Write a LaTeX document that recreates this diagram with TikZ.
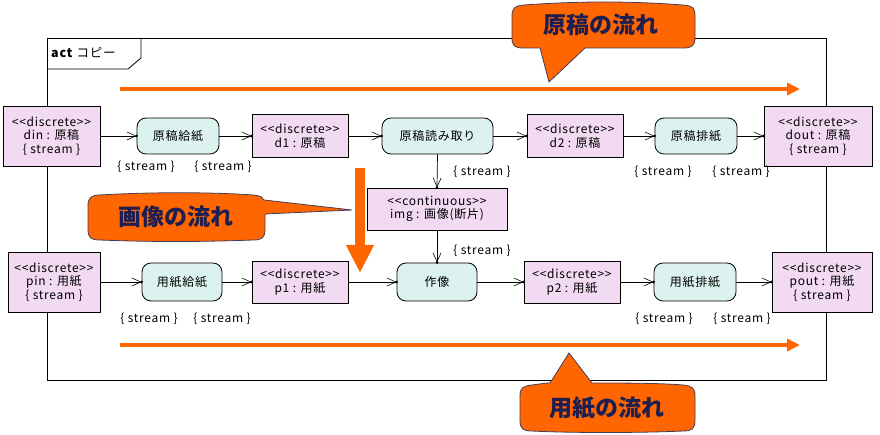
\documentclass[tikz,border=0pt]{standalone}
\usepackage{fontspec}
\setmainfont{Noto Sans CJK JP}[Ligatures=TeXOff, LetterSpace=6]
\newfontfamily\callfont{Noto Sans CJK JP}[Ligatures=TeXOff]
\usetikzlibrary{arrows.meta}
\definecolor{objfill}{RGB}{242,218,242}
\definecolor{actfill}{RGB}{220,242,238}
\definecolor{flowor}{RGB}{255,102,0}
\definecolor{callline}{RGB}{70,60,90}
\definecolor{calltext}{RGB}{30,30,80}
\begin{document}
\begin{tikzpicture}[x=1pt,y=-1pt,
  base/.style={draw, line width=0.8pt, inner sep=0pt, align=center, font=\fontsize{12}{13.5}\selectfont},
  obj/.style={base, fill=objfill},
  actn/.style={base, fill=actfill, rounded corners=9pt},
  lbl/.style={inner sep=0pt, font=\fontsize{12}{13.5}\selectfont},
  flow/.style={line width=0.7pt, -{Straight Barb[length=9pt,width=8pt,line width=0.6pt]}},
  big/.style={line width=4pt, draw=flowor, -{Triangle[length=13pt,width=12pt]}},
  callout/.style={fill=flowor, draw=callline, line width=0.8pt},
  ctext/.style={inner sep=0pt, text=calltext, font=\callfont\fontsize{23}{25}\selectfont\bfseries}
]
\useasboundingbox (0,0) rectangle (880,435);
% frame
\draw[line width=0.8pt] (47,38) rectangle (826,380);
\draw[line width=0.8pt] (47,69) -- (128,69) -- (141,58) -- (141,38);
\node[lbl, anchor=west, font=\fontsize{12.5}{14}\selectfont] (frametitle) at (51,53) {\textbf{act} コピー};

% orange horizontal arrows
\coordinate (t1) at (120,89); \coordinate (t2) at (800,89);
\coordinate (u1) at (120,345); \coordinate (u2) at (800,345);
\draw[big] (t1) -- (t2);
\draw[big] (u1) -- (u2);

% nodes top row
\node[obj, minimum width=97pt, minimum height=60pt] (din) at (51.5,136) {<<discrete>>\\din : 原稿\\\{ stream \}};
\node[actn, minimum width=82pt, minimum height=36pt] (a1) at (178,136) {原稿給紙};
\node[obj, minimum width=96pt, minimum height=43pt] (d1) at (300,136) {<<discrete>>\\d1 : 原稿};
\node[actn, minimum width=111pt, minimum height=36pt] (a2) at (437.5,136) {原稿読み取り};
\node[obj, minimum width=96pt, minimum height=43pt] (d2) at (575,136) {<<discrete>>\\d2 : 原稿};
\node[actn, minimum width=82pt, minimum height=36pt] (a3) at (696,136) {原稿排紙};
\node[obj, minimum width=108pt, minimum height=60pt] (dout) at (818,136) {<<discrete>>\\dout : 原稿\\\{ stream \}};

\node[obj, minimum width=140pt, minimum height=42pt] (img) at (437,209) {<<continuous>>\\img : 画像(断片)};

% bottom row
\node[obj, minimum width=92pt, minimum height=60pt] (pin) at (54,282) {<<discrete>>\\pin : 用紙\\\{ stream \}};
\node[actn, minimum width=80pt, minimum height=38pt] (b1) at (182,282) {用紙給紙};
\node[obj, minimum width=96pt, minimum height=42pt] (p1) at (300,282) {<<discrete>>\\p1 : 用紙};
\node[actn, minimum width=80pt, minimum height=38pt] (b2) at (437,282) {作像};
\node[obj, minimum width=96pt, minimum height=42pt] (p2) at (572,282) {<<discrete>>\\p2 : 用紙};
\node[actn, minimum width=82pt, minimum height=38pt] (b3) at (695,282) {用紙排紙};
\node[obj, minimum width=100pt, minimum height=60pt] (pout) at (822,282) {<<discrete>>\\pout : 用紙\\\{ stream \}};

% connectors
\foreach \a/\b in {din/a1, a1/d1, d1/a2, a2/d2, d2/a3, a3/dout, pin/b1, b1/p1, p1/b2, b2/p2, p2/b3, b3/pout} {
  \draw[flow] (\a.east) -- (\b.west);
  \fill (\b.west) circle (1.4pt);
}
\draw[flow] (a2.south) -- (img.north); \fill (img.north) circle (1.4pt);
\draw[flow] (img.south) -- (b2.north); \fill (b2.north) circle (1.4pt);

% stream labels
\node[lbl] (s1) at (146,167) {\{ stream \}};
\node[lbl] (s2) at (223,167) {\{ stream \}};
\node[lbl] (s3) at (663,172) {\{ stream \}};
\node[lbl] (s4) at (741,172) {\{ stream \}};
\node[lbl] (s5) at (482,172) {\{ stream \}};
\node[lbl] (s6) at (482,251) {\{ stream \}};
\node[lbl] (s7) at (149,319) {\{ stream \}};
\node[lbl] (s8) at (222,319) {\{ stream \}};
\node[lbl] (s9) at (664,319) {\{ stream \}};
\node[lbl] (s10) at (742,319) {\{ stream \}};

% vertical orange arrow
\coordinate (v1) at (360,168); \coordinate (v2) at (360,273);
\draw[line width=10pt, draw=flowor, -{Triangle[length=28pt,width=26pt]}] (v1) -- (v2);

% callout 1: 原稿の流れ
\draw[callout] (524,5) .. controls (580,1) and (630,1) .. (683,5)
  .. controls (694,6) and (695,8) .. (695,17) -- (695,37)
  .. controls (695,46) and (692,48) .. (683,48) -- (585,48) -- (549,82) -- (540,48) -- (524,48)
  .. controls (514,48) and (512,46) .. (512,37) -- (512,17)
  .. controls (512,8) and (514,6) .. (524,5) -- cycle;
\node[ctext] (c1) at (601,25) {原稿の流れ};

% callout 2: 画像の流れ
\draw[callout] (100,195) .. controls (150,192) and (210,192) .. (253,195)
  .. controls (261,196) and (263,197) .. (264,200) -- (352,210) -- (265,214) -- (265,229)
  .. controls (265,238) and (262,240) .. (253,240)
  .. controls (200,242) and (150,242) .. (100,240)
  .. controls (91,240) and (88,238) .. (88,229) -- (88,206)
  .. controls (88,198) and (91,195) .. (100,195) -- cycle;
\node[ctext] (c2) at (176,217) {画像の流れ};

% callout 3: 用紙の流れ
\draw[callout] (532,385) .. controls (540,384) and (545,383) .. (550,383) -- (569,353) -- (592,383)
  .. controls (620,383) and (660,383) .. (683,385)
  .. controls (692,386) and (695,388) .. (695,396) -- (695,420)
  .. controls (695,429) and (692,431) .. (683,431)
  .. controls (640,433) and (570,433) .. (532,431)
  .. controls (523,431) and (520,429) .. (520,420) -- (520,396)
  .. controls (520,388) and (523,386) .. (532,385) -- cycle;
\node[ctext] (c3) at (607,408) {用紙の流れ};
\end{tikzpicture}
\end{document}
